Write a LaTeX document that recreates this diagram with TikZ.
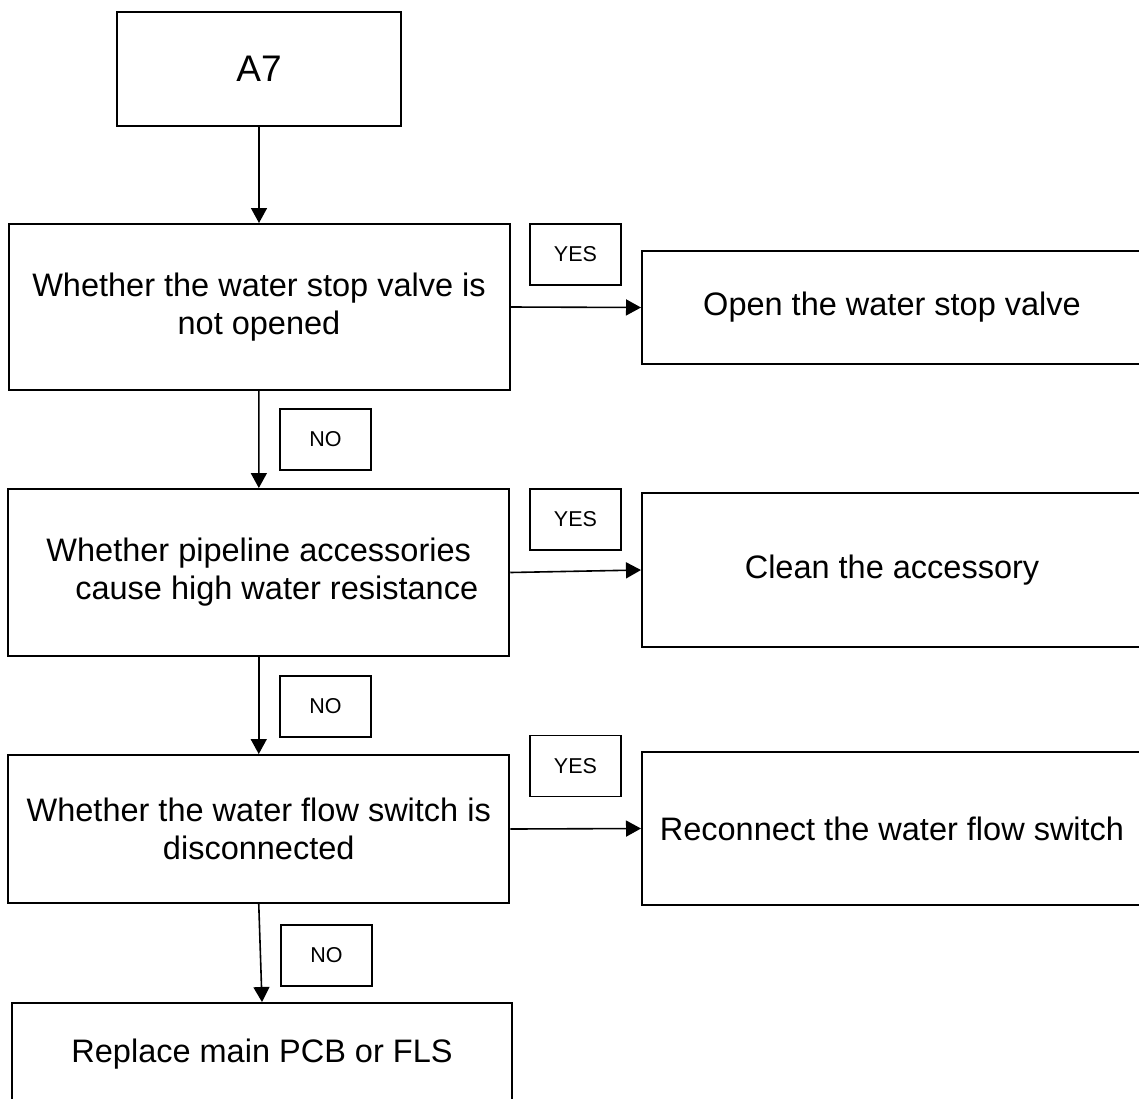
\documentclass[tikz,border=0pt]{standalone}
\usepackage{fontspec}
\setmainfont{Liberation Sans}
\usetikzlibrary{arrows.meta}

\begin{document}
\begin{tikzpicture}[
  x=1pt, y=-1pt,
  start/.style  = {draw, line width=2pt, minimum width=284pt,
                   minimum height=114pt, inner sep=0pt,
                   font=\fontsize{37}{43}\selectfont},
  check/.style  = {draw, line width=2pt, minimum width=501pt,
                   align=center, inner sep=0pt,
                   font=\fontsize{32.5}{38}\selectfont},
  action/.style = {draw, line width=2pt, minimum width=500pt,
                   align=center, inner sep=0pt,
                   font=\fontsize{32.5}{38}\selectfont},
  answer/.style = {draw, line width=1.6pt, minimum width=91pt,
                   minimum height=61pt, inner sep=0pt,
                   font=\fontsize{21.5}{25}\selectfont},
  arrow/.style  = {-{Triangle[length=15pt,width=16pt]}, line width=1.6pt},
]
\useasboundingbox (0,0) rectangle (1139,1098);

% ===== Start =====
\node[start] (a7) at (259, 69) {A7};

% ===== Checks (left column) =====
\node[check, minimum height=166pt] (q1) at (259, 307)
  {Whether the water stop valve is\\not opened};
\node[check, minimum height=167pt] (q2) at (258.75, 572.5)
  {Whether pipeline accessories\\\hspace*{36pt}cause high water resistance};
\node[check, minimum height=148pt] (q3) at (258.75, 829)
  {Whether the water flow switch is\\disconnected};
\node[action, minimum height=102pt] (q4) at (262, 1054)
  {Replace main PCB or FLS};

% ===== Actions (right column, cut by the page edge) =====
\node[action, minimum height=113pt] (r1) at (892, 307.5)
  {Open the water stop valve};
\node[action, minimum height=154pt] (r2) at (892, 570)
  {Clean the accessory};
\node[action, minimum height=153pt] (r3) at (892, 828.5)
  {Reconnect the water flow switch};

% ===== YES / NO tags =====
\node[answer] (yes1) at (575.5, 254.5) {YES};
\node[answer] (yes2) at (575.5, 519.5) {YES};
\node[answer] (yes3) at (575.5, 766)   {YES};
\node[answer] (no1)  at (325.5, 439.5) {NO};
\node[answer] (no2)  at (325.5, 706.5) {NO};
\node[answer] (no3)  at (326.5, 955.5) {NO};

% ===== Connectors =====
\draw[arrow] (a7) -- (q1);
\draw[arrow] (q1) -- (q2);
\draw[arrow] (q2) -- (q3);
\draw[arrow] (q3.south) -- (q4.north);
\draw[arrow] (q1.east) -- (r1.west);
\draw[arrow] (q2.east) -- (r2.west);
\draw[arrow] (q3.east) -- (r3.west);

\end{tikzpicture}
\end{document}
